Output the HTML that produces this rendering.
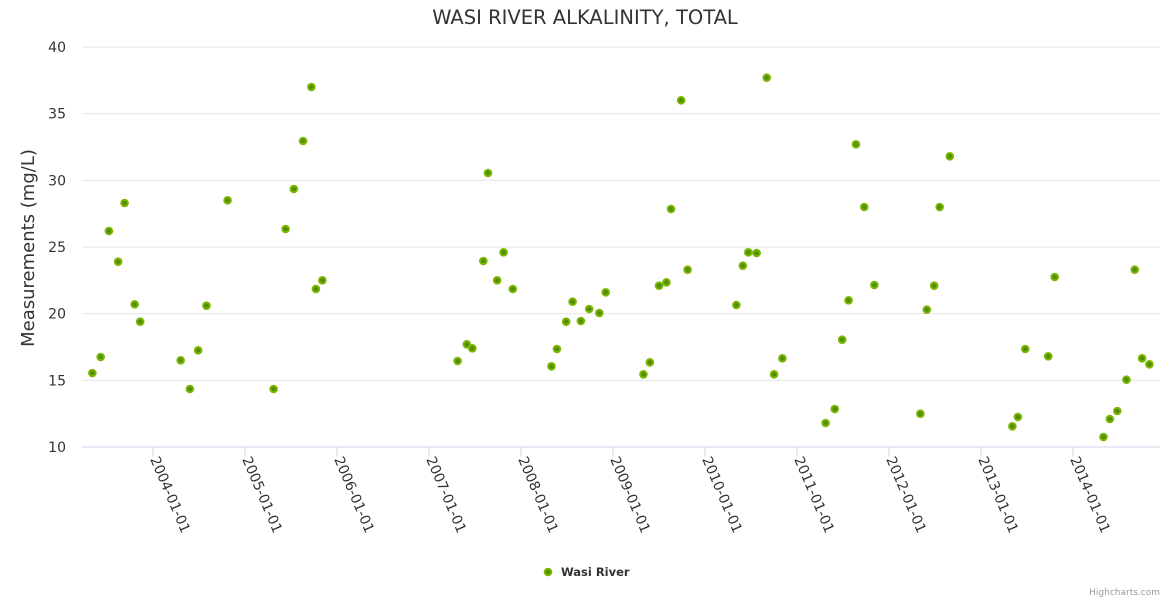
<!DOCTYPE html>
<html><head><meta charset="utf-8"><style>
body{margin:0;background:#fff;font-family:"DejaVu Sans",sans-serif}
</style></head><body>
<svg width="1170" height="600" style="font-family:'DejaVu Sans',sans-serif">
<text x="585" y="24" text-anchor="middle" font-size="19.5" fill="#333">WASI RIVER ALKALINITY, TOTAL</text>
<g id="grid"></g>
<g id="xaxis"></g>
<g id="points"></g>
<text transform="translate(34,248) rotate(-90)" text-anchor="middle" font-size="18" fill="#333">Measurements (mg/L)</text>
<g><circle cx="548" cy="572" r="3.3" fill="#4f8f00" stroke="#7cb500" stroke-width="2"/><text x="561" y="576" font-size="11.5" font-weight="bold" fill="#333">Wasi River</text></g>
<text x="1160" y="595" text-anchor="end" font-size="9" fill="#999">Highcharts.com</text>
</svg>
<script>
const yTicks=[10,15,20,25,30,35,40];
const xTickYears=[2004,2005,2006,2007,2008,2009,2010,2011,2012,2013,2014];
const dates=[2003.33,2003.42,2003.51,2003.61,2003.68,2003.79,2003.85,2004.29,2004.39,2004.48,2004.57,2004.80,2005.30,2005.43,2005.52,2005.62,2005.71,2005.76,2005.83,2007.30,2007.40,2007.46,2007.58,2007.63,2007.73,2007.80,2007.90,2008.32,2008.38,2008.48,2008.55,2008.64,2008.73,2008.84,2008.91,2009.32,2009.39,2009.49,2009.57,2009.62,2009.73,2009.80,2010.33,2010.40,2010.46,2010.55,2010.66,2010.74,2010.83,2011.30,2011.40,2011.48,2011.55,2011.63,2011.72,2011.83,2012.33,2012.40,2012.48,2012.54,2012.65,2013.33,2013.39,2013.47,2013.72,2013.79,2014.32,2014.39,2014.47,2014.57,2014.66,2014.74,2014.82];
const values=[15.55,16.75,26.2,23.9,28.3,20.7,19.4,16.5,14.35,17.25,20.6,28.5,14.35,26.35,29.35,32.95,37.0,21.85,22.5,16.45,17.7,17.4,23.95,30.55,22.5,24.6,21.85,16.05,17.35,19.4,20.9,19.45,20.35,20.05,21.6,15.45,16.35,22.1,22.35,27.85,36.0,23.3,20.65,23.6,24.6,24.55,37.7,15.45,16.65,11.8,12.85,18.05,21.0,32.7,28.0,22.15,12.5,20.3,22.1,28.0,31.8,11.55,12.25,17.35,16.8,22.75,10.75,12.1,12.7,15.05,23.3,16.65,16.2];
const NS="http://www.w3.org/2000/svg";
const X0=82,X1=1160,Y0=447,Y1=47;
function xs(yr){return 154+(yr-2004)*92;}
function ys(v){return Y0-(v-10)/30*(Y0-Y1);}
function mk(t,a,p){const e=document.createElementNS(NS,t);for(const k in a)e.setAttribute(k,a[k]);p.appendChild(e);return e;}
const g=document.getElementById('grid');
yTicks.forEach(v=>{
 const l=mk('line',{x1:X0,x2:X1,y1:ys(v),y2:ys(v),stroke:v===10?'#ccd6eb':'#e6e6e6','stroke-width':1},g);
 
 
 const t=mk('text',{x:66,y:ys(v)+5,'text-anchor':'end','font-size':14,fill:'#333'},g);
 t.textContent=v;
 
 
});
const xa=document.getElementById('xaxis');
xTickYears.forEach(yr=>{
 const x=xs(yr)-1;
 const l=mk('line',{x1:x,x2:x,y1:Y0,y2:Y0+10,stroke:'#ccd6eb'},xa);
 
 
 const t=mk('text',{transform:`translate(${x-3},${Y0+12}) rotate(67)`,'font-size':14,fill:'#333'},xa);
 t.textContent=yr+'-01-01';
 
 
});
const pg=document.getElementById('points');
dates.forEach((d,i)=>{
 const c=mk('circle',{cx:xs(d),cy:ys(values[i]),r:3.3,fill:'#4f8f00',stroke:'#7cb500','stroke-width':2},pg);
 
 
});
</script>
</body></html>
